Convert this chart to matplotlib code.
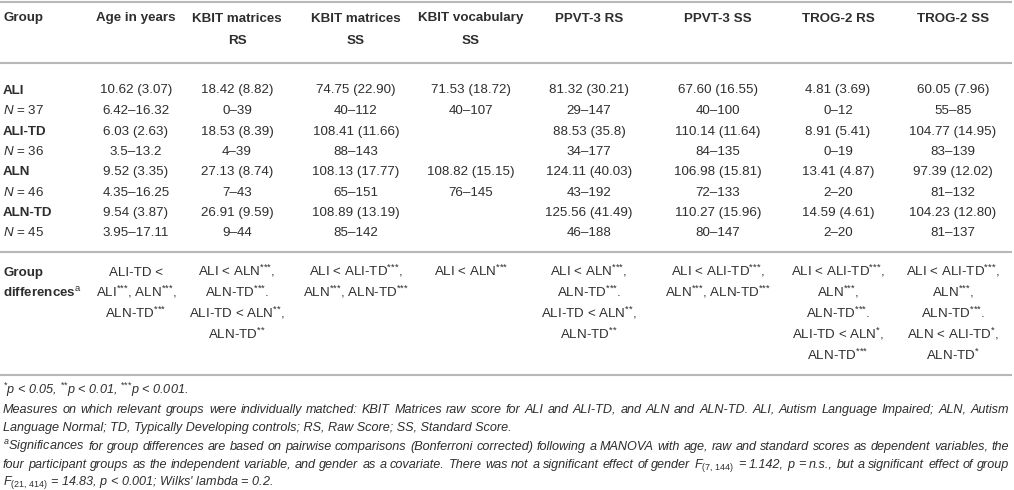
import re
import matplotlib
matplotlib.use("Agg")
import matplotlib.pyplot as plt

plt.rcParams['font.family'] = ['Liberation Sans', 'DejaVu Sans']
plt.rcParams['mathtext.fontset'] = 'custom'
plt.rcParams['mathtext.rm'] = 'Liberation Sans'
plt.rcParams['mathtext.it'] = 'Liberation Sans:italic'
plt.rcParams['mathtext.bf'] = 'Liberation Sans:bold'

# === Table data ===
headers = [["Group"], ["Age in years"], ["KBIT matrices", "RS"], ["KBIT matrices", "SS"],
           ["KBIT vocabulary", "SS"], ["PPVT-3 RS"], ["PPVT-3 SS"], ["TROG-2 RS"], ["TROG-2 SS"]]
groups = ["ALI", "ALI-TD", "ALN", "ALN-TD"]
group_n = [37, 36, 46, 45]

age_ms = ["10.62 (3.07)", "6.03 (2.63)", "9.52 (3.35)", "9.54 (3.87)"]
age_rng = ["6.42–16.32", "3.5–13.2", "4.35–16.25", "3.95–17.11"]
kbit_mat_rs_ms = ["18.42 (8.82)", "18.53 (8.39)", "27.13 (8.74)", "26.91 (9.59)"]
kbit_mat_rs_rng = ["0–39", "4–39", "7–43", "9–44"]
kbit_mat_ss_ms = ["74.75 (22.90)", "108.41 (11.66)", "108.13 (17.77)", "108.89 (13.19)"]
kbit_mat_ss_rng = ["40–112", "88–143", "65–151", "85–142"]
kbit_voc_ss_ms = ["71.53 (18.72)", "", "108.82 (15.15)", ""]
kbit_voc_ss_rng = ["40–107", "", "76–145", ""]
ppvt_rs_ms = ["81.32 (30.21)", "88.53 (35.8)", "124.11 (40.03)", "125.56 (41.49)"]
ppvt_rs_rng = ["29–147", "34–177", "43–192", "46–188"]
ppvt_ss_ms = ["67.60 (16.55)", "110.14 (11.64)", "106.98 (15.81)", "110.27 (15.96)"]
ppvt_ss_rng = ["40–100", "84–135", "72–133", "80–147"]
trog_rs_ms = ["4.81 (3.69)", "8.91 (5.41)", "13.41 (4.87)", "14.59 (4.61)"]
trog_rs_rng = ["0–12", "0–19", "2–20", "2–20"]
trog_ss_ms = ["60.05 (7.96)", "104.77 (14.95)", "97.39 (12.02)", "104.23 (12.80)"]
trog_ss_rng = ["55–85", "83–139", "81–132", "81–137"]

group_diffs = [
    ["ALI-TD <", "ALI***, ALN***,", "ALN-TD***"],
    ["ALI < ALN***,", "ALN-TD***.", "ALI-TD < ALN**,", "ALN-TD**"],
    ["ALI < ALI-TD***,", "ALN***, ALN-TD***"],
    ["ALI < ALN***"],
    ["ALI < ALN***,", "ALN-TD***.", "ALI-TD < ALN**,", "ALN-TD**"],
    ["ALI < ALI-TD***,", "ALN***, ALN-TD***"],
    ["ALI < ALI-TD***,", "ALN***,", "ALN-TD***.", "ALI-TD < ALN*,", "ALN-TD***"],
    ["ALI < ALI-TD***,", "ALN***,", "ALN-TD***.", "ALN < ALI-TD*,", "ALN-TD*"],
]

notes = [
    (False, "$^{{*}}$p < 0.05, $^{{*}{*}}$p < 0.01, $^{{*}{*}{*}}$p < 0.001."),
    (True, "Measures on which relevant groups were individually matched: KBIT Matrices raw score for ALI and ALI-TD, and ALN and ALN-TD. ALI, Autism Language Impaired; ALN, Autism"),
    (False, "Language Normal; TD, Typically Developing controls; RS, Raw Score; SS, Standard Score."),
    (True, "$^{a}$Significances for group differences are based on pairwise comparisons (Bonferroni corrected) following a MANOVA with age, raw and standard scores as dependent variables, the"),
    (True, "four participant groups as the independent variable, and gender as a covariate. There was not a significant effect of gender $F_{(7,\\,144)}$ = 1.142, p = n.s., but a significant effect of group"),
    (False, "$F_{(21,\\,414)}$ = 14.83, p < 0.001; Wilks' lambda = 0.2."),
]

columns_ms = [age_ms, kbit_mat_rs_ms, kbit_mat_ss_ms, kbit_voc_ss_ms,
              ppvt_rs_ms, ppvt_ss_ms, trog_rs_ms, trog_ss_ms]
columns_rng = [age_rng, kbit_mat_rs_rng, kbit_mat_ss_rng, kbit_voc_ss_rng,
               ppvt_rs_rng, ppvt_ss_rng, trog_rs_rng, trog_ss_rng]

# === Layout (pixel units) ===
W, H = 1014, 490
col_x = [3, 136, 237, 356, 471, 589, 718, 838, 953]
txt = '#2e2e2e'
rule = '#b8b8b8'
fs = 9.6
off = 4.5  # center -> baseline

fig = plt.figure(figsize=(W / 100, H / 100), dpi=100)
ax = fig.add_axes([0, 0, 1, 1])
ax.set_xlim(0, W)
ax.set_ylim(H, 0)
ax.axis('off')


def stars(s):
    return re.sub(r'(\*+)', lambda m: '$^{' + '{*}' * len(m.group(1)) + '}$', s)


# header
for i, lines in enumerate(headers):
    for j, line in enumerate(lines):
        ax.text(col_x[i], 17 + 23 * j + off, line, ha='left' if i == 0 else 'center',
                va='baseline', fontsize=fs, fontweight='bold', color=txt)

# data rows
row_y = [89, 109.5, 130, 150.5, 170.5, 191, 211, 231.5]
for g in range(len(groups)):
    y1, y2 = row_y[2 * g], row_y[2 * g + 1]
    ax.text(col_x[0], y1 + off, groups[g], ha='left', va='baseline', fontsize=fs,
            fontweight='bold', color=txt)
    ax.text(col_x[0], y2 + off, "$N$ = %d" % group_n[g], ha='left', va='baseline',
            fontsize=fs, color=txt)
    for c in range(len(columns_ms)):
        ax.text(col_x[c + 1], y1 + off, columns_ms[c][g], ha='center', va='baseline',
                fontsize=fs, color=txt)
        ax.text(col_x[c + 1], y2 + off, columns_rng[c][g], ha='center', va='baseline',
                fontsize=fs, color=txt)

# group differences
gd_y = [271, 292, 313, 334, 355]
ax.text(col_x[0], gd_y[0] + off, "Group", ha='left', va='baseline', fontsize=fs,
        fontweight='bold', color=txt)
ax.text(col_x[0], gd_y[1] + off, "differences$^{\\mathrm{a}}$", ha='left', va='baseline',
        fontsize=fs, fontweight='bold', color=txt)
for c, lines in enumerate(group_diffs):
    for j, line in enumerate(lines):
        ax.text(col_x[c + 1], gd_y[j] + off, stars(line), ha='center', va='baseline',
                fontsize=fs, color=txt)

# rules
for y in [2, 63, 252, 375]:
    ax.plot([0, 1012], [y, y], color=rule, lw=1.5, solid_capstyle='butt')

# footnotes
note_y = [389, 408, 426, 445, 463, 480]
nfs = 9.1
renderer = fig.canvas.get_renderer()
for (just, line), y in zip(notes, note_y):
    if not just:
        ax.text(3, y + off, line, ha='left', va='baseline', fontsize=nfs,
                style='italic', color=txt)
        continue
    words = line.split(' ')
    texts = [ax.text(0, y + off, w, ha='left', va='baseline', fontsize=nfs,
                     style='italic', color=txt) for w in words]
    widths = [t.get_window_extent(renderer).width for t in texts]
    gap = max((1009 - 3 - sum(widths)) / (len(words) - 1), 2.0)
    x = 3
    for t, w in zip(texts, widths):
        t.set_x(x)
        x += w + gap

fig.savefig('out.png', dpi=100, facecolor='white')
